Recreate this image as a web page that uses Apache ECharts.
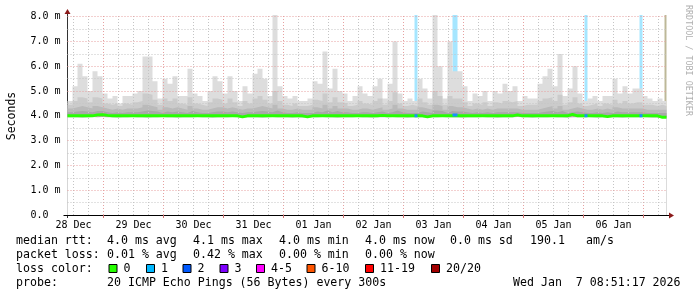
<!DOCTYPE html>
<html><head><meta charset="utf-8">
<script src="https://cdn.jsdelivr.net/npm/echarts@6/dist/echarts.min.js"></script>
<style>html,body{margin:0;padding:0;background:#fff}#c{width:697px;height:297px}</style>
</head><body><div id="c"></div>
<script>
// ---- data ----
const dayLabels = ['28 Dec','29 Dec','30 Dec','31 Dec','01 Jan','02 Jan','03 Jan','04 Jan','05 Jan','06 Jan'];
const dayNoonHours = [12,36,60,84,108,132,156,180,204,228];
const midnightHours = [24,48,72,96,120,144,168,192,216,240];
const yTickLabels = ['0.0  ','1.0 m','2.0 m','3.0 m','4.0 m','5.0 m','6.0 m','7.0 m','8.0 m'];
const startHour = 9.6, endHour = 249.2, stepHours = 2;   // hours since 28 Dec 00:00

const smokeMax = [
4.6,5.2,6.1,5.6,5.0,5.8,5.6,4.9,4.7,4.8,
4.5,4.8,4.8,4.9,5.0,6.4,6.4,5.4,4.7,5.5,
5.3,5.6,4.8,4.8,5.9,4.9,4.8,4.6,5.0,5.6,
5.4,4.9,5.6,5.0,4.6,5.2,4.9,5.7,5.9,5.5,
4.8,8.1,5.2,4.8,4.7,4.8,4.6,4.6,4.7,5.4,
5.3,6.6,5.1,5.9,5.0,4.9,4.6,4.8,5.2,4.9,
4.8,5.2,5.5,4.7,5.3,7.0,4.9,4.6,4.7,4.6,
5.5,5.1,4.7,8.1,6.0,4.7,7.0,5.8,5.8,5.2,
4.6,4.9,4.8,5.0,4.6,5.0,4.9,5.3,5.0,5.2,
4.6,4.8,4.7,4.7,5.3,5.6,5.9,5.2,6.5,4.8,
5.1,6.0,4.9,4.6,4.7,4.8,4.6,4.8,4.8,5.5,
4.9,5.2,4.9,5.1,5.1,4.8,4.7,4.6,4.7,4.6];
const smokeMid = [
4.45,4.6,4.75,4.7,4.55,4.75,4.7,4.5,4.45,4.5,
4.4,4.5,4.45,4.55,4.6,4.9,4.85,4.65,4.45,4.7,
4.6,4.7,4.5,4.45,4.75,4.5,4.45,4.4,4.55,4.7,
4.65,4.5,4.7,4.55,4.4,4.6,4.5,4.7,4.8,4.65,
4.5,5.0,4.6,4.45,4.4,4.5,4.4,4.4,4.45,4.65,
4.6,4.9,4.55,4.75,4.55,4.5,4.4,4.45,4.6,4.5,
4.45,4.6,4.7,4.45,4.6,4.95,4.5,4.4,4.45,4.4,
4.7,4.55,4.45,5.0,4.8,4.45,4.8,4.7,4.7,4.55,
4.4,4.5,4.45,4.55,4.4,4.55,4.5,4.6,4.55,4.6,
4.4,4.45,4.45,4.45,4.6,4.7,4.75,4.6,4.85,4.45,
4.55,4.75,4.5,4.4,4.45,4.5,4.4,4.5,4.45,4.65,
4.5,4.6,4.5,4.55,4.55,4.45,4.45,4.4,4.45,4.4];
const smokeInner = [
4.3,4.35,4.4,4.35,4.3,4.4,4.35,4.3,4.25,4.3,
4.25,4.3,4.3,4.3,4.35,4.45,4.4,4.35,4.25,4.35,
4.3,4.35,4.3,4.25,4.4,4.3,4.25,4.25,4.3,4.35,
4.35,4.3,4.35,4.3,4.25,4.3,4.3,4.35,4.4,4.35,
4.3,4.45,4.3,4.25,4.25,4.3,4.25,4.25,4.25,4.35,
4.3,4.45,4.3,4.4,4.3,4.3,4.25,4.25,4.3,4.3,
4.25,4.3,4.35,4.25,4.3,4.45,4.3,4.25,4.25,4.25,
4.35,4.3,4.25,4.45,4.4,4.25,4.4,4.35,4.35,4.3,
4.25,4.3,4.25,4.3,4.25,4.3,4.3,4.3,4.3,4.3,
4.25,4.25,4.25,4.25,4.3,4.35,4.4,4.3,4.4,4.25,
4.3,4.35,4.3,4.25,4.25,4.3,4.25,4.3,4.25,4.35,
4.3,4.3,4.3,4.3,4.3,4.25,4.25,4.25,4.25,4.25];
const smokeCore = [
4.15,4.18,4.2,4.18,4.15,4.2,4.2,4.15,4.12,4.15,
4.12,4.15,4.15,4.15,4.18,4.22,4.2,4.18,4.12,4.18,
4.15,4.18,4.15,4.12,4.2,4.15,4.12,4.12,4.15,4.18,
4.18,4.15,4.18,4.15,4.12,4.15,4.15,4.18,4.2,4.18,
4.15,4.22,4.15,4.12,4.12,4.15,4.12,4.12,4.12,4.18,
4.15,4.22,4.15,4.2,4.15,4.15,4.12,4.12,4.15,4.15,
4.12,4.15,4.18,4.12,4.15,4.22,4.15,4.12,4.12,4.12,
4.18,4.15,4.12,4.22,4.2,4.12,4.2,4.18,4.18,4.15,
4.12,4.15,4.12,4.15,4.12,4.15,4.15,4.15,4.15,4.15,
4.12,4.12,4.12,4.12,4.15,4.18,4.2,4.15,4.2,4.12,
4.15,4.18,4.15,4.12,4.12,4.15,4.12,4.15,4.12,4.18,
4.15,4.15,4.15,4.15,4.15,4.12,4.12,4.12,4.12,4.12];
const smokeMin = [
3.94,3.94,3.93,3.94,3.95,3.94,3.95,3.94,3.94,3.93,
3.94,3.94,3.95,3.94,3.94,3.93,3.94,3.94,3.95,3.94,
3.94,3.93,3.94,3.94,3.94,3.95,3.94,3.94,3.93,3.94,
3.94,3.94,3.95,3.94,3.93,3.94,3.94,3.94,3.93,3.94,
3.95,3.94,3.94,3.94,3.93,3.94,3.93,3.94,3.94,3.94,
3.95,3.94,3.94,3.93,3.94,3.94,3.94,3.95,3.94,3.94,
3.93,3.94,3.94,3.94,3.95,3.94,3.94,3.93,3.94,3.94,
3.94,3.93,3.94,3.94,3.95,3.94,3.94,3.94,3.93,3.94,
3.94,3.94,3.95,3.94,3.94,3.93,3.94,3.94,3.94,3.95,
3.94,3.94,3.93,3.94,3.94,3.94,3.95,3.94,3.94,3.93,
3.94,3.94,3.94,3.95,3.94,3.93,3.94,3.94,3.94,3.94,
3.93,3.94,3.94,3.94,3.95,3.94,3.93,3.93,3.92,3.92];
const medianRtt = [
4.0,4.0,4.0,4.0,4.0,4.04,4.05,4.02,4.0,4.0,
4.0,4.0,4.0,4.0,4.0,4.0,4.0,4.0,4.0,4.0,
4.0,4.0,4.0,4.0,4.0,4.0,4.0,4.0,4.0,4.0,
4.0,4.0,4.0,4.0,3.96,4.0,4.0,4.0,4.0,4.0,
4.0,4.0,4.0,4.0,4.0,4.0,4.0,3.96,4.0,4.0,
4.0,4.0,4.0,4.0,4.0,4.0,4.0,4.0,4.0,4.0,
4.0,4.0,4.02,4.0,4.0,4.0,4.0,4.0,4.0,4.0,
4.0,3.96,4.0,4.0,4.0,4.0,4.0,4.0,4.0,4.0,
4.0,4.0,4.0,4.0,4.0,4.0,4.0,4.0,4.0,4.04,
4.0,4.0,4.0,4.0,4.0,4.0,4.0,4.0,4.0,4.0,
4.06,4.0,4.0,4.0,4.0,4.0,4.0,3.97,4.0,4.0,
4.0,4.0,4.0,4.0,4.0,4.0,4.0,4.0,3.94,3.94];
const lossStart = [148.4, 163.6, 216.4, 238.4];
const lossEnd   = [149.6, 165.6, 217.6, 239.6];
const lossMedian = [4.0, 4.03, 4.0, 4.0];
const lossColorLabels = ['0','1','2','3','4-5','6-10','11-19','20/20'];
const rttStats  = ['4.0 ms avg','4.1 ms max','4.0 ms min','4.0 ms now','0.0 ms sd','190.1','am/s'];
const lossStats = ['0.01 % avg','0.42 % max','0.00 % min','0.00 % now'];
const probeText = '20 ICMP Echo Pings (56 Bytes) every 300s';
const stampText = 'Wed Jan  7 08:51:17 2026';

// ---- styles ----
const lossColors = ['#26ff00','#00b8ff','#0059ff','#7e00ff','#ff00ff','#ff5500','#ff0000','#a10000'];
const MONO = 'DejaVu Sans Mono';
const MAJOR = '#e6a0a0', MINOR = '#c4c4c4';

function pts(arr){
  const d = arr.map((v,i)=>[startHour + i*stepHours, v]);
  d.push([endHour, arr[arr.length-1]]);
  return d;
}
function smoke(arr, color, z){
  return {type:'line', step:'end', data:pts(arr), symbol:'none', silent:true,
    lineStyle:{width:0}, areaStyle:{color:color, opacity:1}, z:z, animation:false};
}

const gridLines = [];
for (let h = 12; h < endHour; h += 6) {
  const major = midnightHours.indexOf(h) >= 0;
  gridLines.push({xAxis:h, lineStyle:{color: major?MAJOR:MINOR, type:[1,2], width:1}});
}
for (let k = 1; k <= 16; k++) {
  const v = k*0.5;
  gridLines.push({yAxis:v, lineStyle:{color: (k%2===0)?MAJOR:MINOR, type:[1,2], width:1}});
}

const lossLine = [];
lossStart.forEach((s,k)=>{ lossLine.push([s, lossMedian[k]]); lossLine.push([lossEnd[k], lossMedian[k]]); lossLine.push([lossEnd[k], '-']); });

const chart = echarts.init(document.getElementById('c'), null, {renderer:'canvas'});
const option = {
  animation:false,
  backgroundColor:'#ffffff',
  grid:{left:67.5, right:30.5, top:15, bottom:82, containLabel:false},
  xAxis:{type:'value', min:startHour, max:endHour,
    axisLine:{show:true, lineStyle:{color:'#000', width:1}},
    axisTick:{show:true, customValues:midnightHours, length:3, lineStyle:{color:'#d07070'}},
    axisLabel:{customValues:dayNoonHours, margin:5, fontFamily:MONO, fontSize:10, color:'#000',
      formatter:(v)=>{const i = dayNoonHours.indexOf(v); return i>=0?dayLabels[i]:'';}},
    splitLine:{show:false}},
  yAxis:{type:'value', min:0, max:8.07, interval:1,
    axisLine:{show:true, lineStyle:{color:'#333', width:1}},
    axisTick:{show:false},
    axisLabel:{margin:7, fontFamily:MONO, fontSize:10, color:'#000',
      formatter:(v)=> (Number.isInteger(v) && v < yTickLabels.length) ? yTickLabels[v] : ''},
    splitLine:{show:false}},
  series:[
    smoke(smokeMax,'#dddddd',1),
    smoke(smokeMid,'#cbcbcb',2),
    smoke(smokeInner,'#bababa',3),
    smoke(smokeCore,'#a8a8a8',4),
    smoke(smokeMin,'#ffffff',5),
    {type:'line', data:[[startHour, null]], z:6, zlevel:0, silent:true, symbol:'none',
      markLine:{silent:true, symbol:['none','none'], label:{show:false}, animation:false, z:6, data:gridLines}},
    {type:'line', data:[[startHour, null]], z:7, silent:true, symbol:'none',
      markArea:{silent:true, animation:false, label:{show:false},
        data: lossStart.map((s,k)=>[{xAxis:s, itemStyle:{color:'#a6e6ff'}},{xAxis:lossEnd[k]}])
          .concat([[{xAxis:248.4, itemStyle:{color:'#bdb898'}},{xAxis:endHour}]])}},
    {type:'line', step:'end', data:pts(medianRtt), symbol:'none', silent:true,
      lineStyle:{color:lossColors[0], width:3}, z:8},
    {type:'line', data:lossLine, symbol:'none', silent:true, connectNulls:false,
      lineStyle:{color:'#1890ff', width:3}, z:9}
  ]
};
chart.setOption(option);

// decorations: arrows, side texts, legend
const o = chart.convertToPixel({gridIndex:0}, [startHour, 0]);
const e = chart.convertToPixel({gridIndex:0}, [endHour, 8.07]);
const ARROW = '#8b1a1a';
const g = [
  {type:'line', shape:{x1:o[0]-4, y1:o[1]+0.5, x2:e[0]+3, y2:o[1]+0.5}, style:{stroke:'#000', lineWidth:1}},
  {type:'line', shape:{x1:o[0], y1:o[1]+3, x2:o[0], y2:e[1]-2}, style:{stroke:'#333', lineWidth:1}},
  {type:'polygon', shape:{points:[[e[0]+2.5,o[1]-2.5],[e[0]+7.5,o[1]+0.5],[e[0]+2.5,o[1]+3.5]]}, style:{fill:ARROW}},
  {type:'polygon', shape:{points:[[o[0]-3,e[1]-1],[o[0],e[1]-6],[o[0]+3,e[1]-1]]}, style:{fill:ARROW}},
  {type:'text', x:11.7, y:116, rotation:Math.PI/2,
    style:{text:'Seconds', font:'11.5px '+MONO, fill:'#000', align:'center', verticalAlign:'middle'}},
  {type:'text', x:688.5, y:5, rotation:-Math.PI/2,
    style:{text:'RRDTOOL / TOBI OETIKER', font:'8.4px '+MONO, fill:'#b0b0b0', align:'left', verticalAlign:'middle'}}
];
const F = '11.6px '+MONO;
function txt(x,y,s){ g.push({type:'text', x:x, y:y, style:{text:s, font:F, fill:'#000', align:'left', verticalAlign:'middle'}}); }
const rows = [240.5, 254.5, 268.5, 282.5];
txt(16, rows[0], 'median rtt:');
[107,193,279,365,450,530,586].forEach((x,i)=>txt(x, rows[0], rttStats[i]));
txt(16, rows[1], 'packet loss:');
[107,193,279,365].forEach((x,i)=>txt(x, rows[1], lossStats[i]));
txt(16, rows[2], 'loss color:');
[108.5,146,182.5,219.5,256,306.5,365,431].forEach((x,i)=>{
  g.push({type:'rect', shape:{x:x+0.5, y:rows[2]-4, width:8, height:8}, style:{fill:lossColors[i], stroke:'#000', lineWidth:1}});
  txt(x+15, rows[2], lossColorLabels[i]);
});
txt(16, rows[3], 'probe:');
txt(107, rows[3], probeText);
txt(513, rows[3], stampText);
chart.setOption({graphic:{elements:g}});
</script>
</body></html>
